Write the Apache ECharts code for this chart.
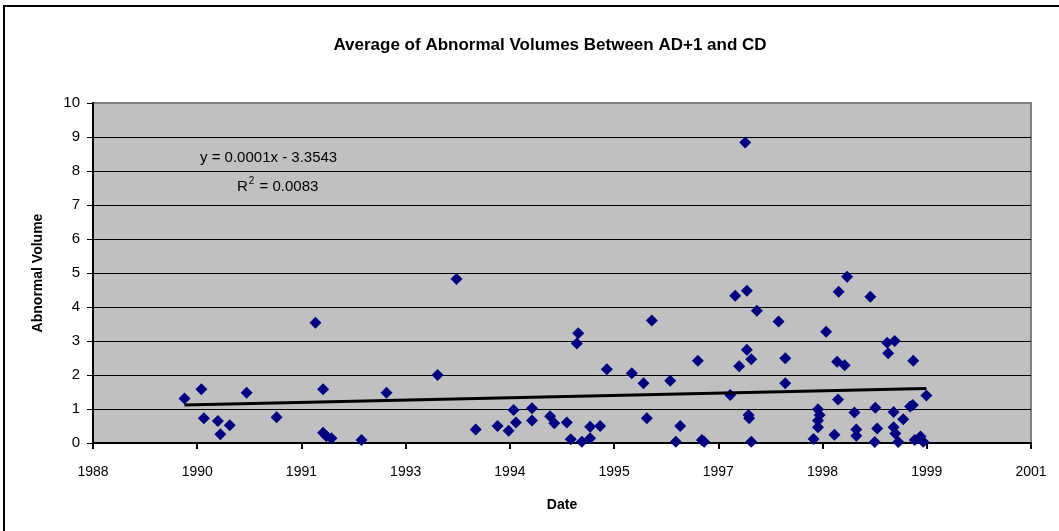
<!DOCTYPE html>
<html>
<head>
<meta charset="utf-8">
<script src="https://cdn.jsdelivr.net/npm/echarts@6/dist/echarts.min.js"></script>
<style type="text/css">
    *{
        padding: 0;
        margin: 0;
    }
    body{
        background: #fff;
        overflow: hidden;
    }
    #chart{
        width: 1059px;
        height: 531px;
    }
</style>
</head>
<body>
<div id="chart"></div>
<script type="text/javascript">
    // dates are Excel serial numbers (days), shown as years on the axis
    let dateSerials = [
        32939, 33020, 33032, 33099, 33111, 33156, 33237, 33381, 33567, 33604,
        33604, 33620, 33644, 33788, 33908, 34153, 34244, 34336, 34441, 34494,
        34518, 34529, 34606, 34606, 34693, 34713, 34773, 34792, 34821, 34828,
        34845, 34885, 34885, 34933, 34965, 35085, 35141, 35157, 35181, 35269,
        35296, 35317, 35402, 35421, 35432, 35557, 35581, 35600, 35629, 35637,
        35637, 35645, 35648, 35658, 35658, 35685, 35789, 35821, 35821, 35957,
        35978, 35986, 35978, 35978, 36017, 36057, 36070, 36074, 36077, 36106,
        36118, 36153, 36162, 36162, 36229, 36250, 36253, 36262, 36310, 36315,
        36341, 36341, 36349, 36346, 36363, 36387, 36420, 36433, 36435, 36442,
        36470, 36483, 36498
    ];
    let abnormalVolume = [
        1.31, 1.58, 0.73, 0.65, 0.26, 0.52, 1.48, 0.76, 3.54, 1.58,
        0.30, 0.20, 0.14, 0.09, 1.48, 2.00, 4.82, 0.40, 0.50, 0.36,
        0.97, 0.60, 1.02, 0.66, 0.79, 0.58, 0.60, 0.11, 2.93, 3.23,
        0.04, 0.48, 0.14, 0.50, 2.17, 2.05, 1.76, 0.73, 3.60, 1.83,
        0.04, 0.50, 2.42, 0.09, 0.04, 1.41, 4.33, 2.26, 8.84, 4.48,
        2.74, 0.82, 0.73, 2.46, 0.04, 3.89, 3.57, 2.49, 1.76, 0.12,
        0.99, 0.82, 0.66, 0.46, 3.27, 0.24, 2.39, 1.28, 4.45, 2.29,
        4.89, 0.90, 0.40, 0.21, 4.30, 0.03, 1.04, 0.43, 2.95, 2.64,
        0.91, 0.46, 0.28, 3.00, 0.03, 0.70, 1.07, 1.12, 2.42, 0.09,
        0.19, 0.04, 1.40
    ];
    // linear trend line at first / last date
    let trendDates = [32939, 36498];
    let trendValues = [1.12, 1.60];

    let xTicks = {min: 32500, max: 37000, interval: 500};
    let yTicks = {min: 0, max: 10, interval: 1};

    let titleText = 'Average of Abnormal Volumes Between AD+1 and CD';
    let equationText = 'y = 0.0001x - 3.3543';
    let rSquaredText = '{r|R}{sup|2}{r| = 0.0083}';

    function serialToYear(v){
        return new Date((v - 25569) * 86400000).getUTCFullYear();
    }

    let font = '"Liberation Sans", Arial, sans-serif';
    let points = dateSerials.map(function (d, i) { return [d, abnormalVolume[i]]; });
    let trend = trendDates.map(function (d, i) { return [d, trendValues[i]]; });

    let myChart = echarts.init(document.getElementById('chart'));
    let option = {
        animation: false,
        textStyle: {fontFamily: font},
        title: {
            text: titleText,
            left: 545,
            top: 32,
            textAlign: 'center',
            textStyle: {fontFamily: font, fontSize: 17, fontWeight: 'bold', color: '#000'}
        },
        graphic: [
            {
                type: 'rect', z: -10, silent: true,
                shape: {x: 4, y: 6, width: 1100, height: 600},
                style: {fill: 'none', stroke: '#000', lineWidth: 2}
            },
            {
                type: 'text', left: 200, top: 150, z: 100,
                style: {text: equationText, fontFamily: font, fontSize: 15, fill: '#000'}
            },
            {
                type: 'text', left: 237, top: 176, z: 100,
                style: {
                    text: rSquaredText, fontFamily: font, fill: '#000',
                    rich: {
                        r: {fontFamily: font, fontSize: 15, fill: '#000', verticalAlign: 'bottom'},
                        sup: {fontFamily: font, fontSize: 10, fill: '#000', verticalAlign: 'top', padding: [0, 1, 8, 1]}
                    }
                }
            }
        ],
        grid: {
            left: 93,
            right: 28,
            top: 103,
            bottom: 88,
            show: true,
            backgroundColor: '#c0c0c0',
            borderColor: '#808080',
            borderWidth: 2
        },
        xAxis: {
            type: 'value',
            min: xTicks.min,
            max: xTicks.max,
            interval: xTicks.interval,
            name: 'Date',
            nameLocation: 'middle',
            nameGap: 55,
            nameTextStyle: {fontFamily: font, fontSize: 14, fontWeight: 'bold', color: '#000'},
            axisLine: {show: true, onZero: false, lineStyle: {color: '#000', width: 2}},
            axisTick: {show: true, length: 6, lineStyle: {color: '#000', width: 2}},
            axisLabel: {
                margin: 22, fontSize: 14, color: '#000', fontFamily: font,
                showMinLabel: true, showMaxLabel: true,
                formatter: function (v) { return String(serialToYear(v)); }
            },
            splitLine: {show: false}
        },
        yAxis: {
            type: 'value',
            min: yTicks.min,
            max: yTicks.max,
            interval: yTicks.interval,
            name: 'Abnormal Volume',
            nameLocation: 'middle',
            nameGap: 48,
            nameTextStyle: {fontFamily: font, fontSize: 14, fontWeight: 'bold', color: '#000'},
            axisLine: {show: true, lineStyle: {color: '#000', width: 2}},
            axisTick: {show: true, length: 6, lineStyle: {color: '#000', width: 1}},
            axisLabel: {margin: 13, fontSize: 15, color: '#000', fontFamily: font},
            splitLine: {show: true, showMaxLine: false, lineStyle: {color: '#000', width: 1}}
        },
        series: [
            {
                type: 'scatter',
                data: points,
                symbol: 'diamond',
                symbolSize: 12,
                itemStyle: {color: '#000080', opacity: 1},
                z: 3
            },
            {
                type: 'line',
                data: trend,
                symbol: 'none',
                lineStyle: {color: '#000', width: 3},
                z: 4
            }
        ]
    };
    myChart.setOption(option);
</script>
</body>
</html>
